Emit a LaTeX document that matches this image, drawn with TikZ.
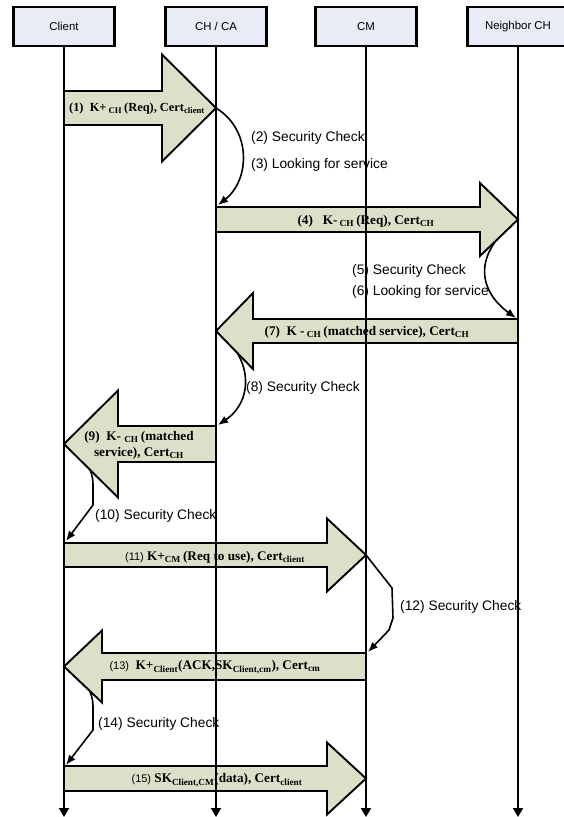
\documentclass[tikz,border=0pt]{standalone}
\usepackage{fontspec}
\setmainfont{Liberation Serif}
\setsansfont{Liberation Sans}
\usetikzlibrary{arrows.meta}
\definecolor{arrowfill}{RGB}{221,224,201}
\definecolor{boxfill}{RGB}{231,236,247}
\begin{document}
\begin{tikzpicture}[x=1pt,y=-1pt,
  actor/.style={draw=black, line width=2.4pt, fill=boxfill, minimum width=101pt, minimum height=39pt, font=\sffamily\fontsize{11.4}{13}\selectfont, inner sep=0pt},
  life/.style={line width=1.9pt, -{Triangle[length=9pt,width=10pt]}},
  fat/.style={draw=black, line width=1.9pt, fill=arrowfill, line join=miter},
  msg/.style={font=\bfseries\fontsize{13.2}{16}\selectfont, inner sep=0pt, align=center},
  note/.style={font=\sffamily\fontsize{13.8}{16}\selectfont, anchor=west, inner sep=0pt},
  loopline/.style={line width=1.6pt, -{Latex[length=10pt,width=8pt]}},
]
\useasboundingbox (0,0) rectangle (563,817);

% actors
\node[actor] (client) at (64,26.5) {Client};
\node[actor] (chca) at (216,26.5) {CH / CA};
\node[actor] (cm) at (366,26.5) {CM};
\node[actor] (nch) at (518,26.5) {Neighbor CH};

% lifeline ends
\coordinate (clientEnd) at (64,817);
\coordinate (chcaEnd) at (216,817);
\coordinate (cmEnd) at (366,817);
\coordinate (nchEnd) at (518,817);

% arrow tips and loop ends
\coordinate (t1) at (216,108);
\coordinate (t4) at (518,219.5);
\coordinate (t7) at (216,331);
\coordinate (t9) at (64,444);
\coordinate (t11) at (366,555);
\coordinate (t13) at (64,666.5);
\coordinate (e1) at (218,205);
\coordinate (e2) at (516,318);
\coordinate (e3) at (218,425);
\coordinate (e4) at (66,541);
\coordinate (e5) at (368,652);
\coordinate (e6) at (66,765);

% loops (behind the fat arrows)
\draw[loopline] (t1) .. controls (252,130) and (250,180) .. (e1);
\draw[loopline] (t4) .. controls (470,255) and (480,292) .. (e2);
\draw[loopline] (t7) .. controls (252,355) and (255,400) .. (e3);
\draw[loopline] (t9) .. controls (85,458) and (93,468) .. (93,485) -- (93,505) -- (e4);
\draw[loopline] (t11) -- (392,588) -- (393,618) -- (389,630) -- (e5);
\draw[loopline] (t13) .. controls (85,680) and (93,690) .. (93,707) -- (93,730) -- (e6);

% fat arrows
\draw[fat] (64,91) -- (162,91) -- (162,54.5) -- (t1) -- (162,161.5) -- (162,125) -- (64,125) -- cycle;
\draw[fat] (216,207) -- (480,207) -- (480,183) -- (t4) -- (480,256) -- (480,232) -- (216,232) -- cycle;
\draw[fat] (518,319) -- (253,319) -- (253,293) -- (t7) -- (253,369) -- (253,343) -- (518,343) -- cycle;
\draw[fat] (216,426) -- (118,426) -- (118,390.5) -- (t9) -- (118,497.5) -- (118,462) -- (216,462) -- cycle;
\draw[fat] (64,543) -- (327,543) -- (327,518.5) -- (t11) -- (327,591.5) -- (327,567) -- (64,567) -- cycle;
\draw[fat] (366,653) -- (102,653) -- (102,630.5) -- (t13) -- (102,702.5) -- (102,680) -- (366,680) -- cycle;
\draw[fat] (64,766) -- (327,766) -- (327,742.5) -- (366,778.5) -- (327,814.5) -- (327,791) -- (64,791) -- cycle;

% lifelines on top
\draw[life] (client.south) -- (clientEnd);
\draw[life] (chca.south) -- (chcaEnd);
\draw[life] (cm.south) -- (cmEnd);
\draw[life] (nch.south) -- (nchEnd);

% message labels
\node[msg, font=\bfseries\fontsize{12.4}{15}\selectfont] (m1) at (137,109) {(1)\ \ K+\,\textsubscript{CH}\,(Req), Cert\textsubscript{client}};
\node[msg] (m4) at (366,221) {(4)\ \ \ K-\,\textsubscript{CH}\,(Req), Cert\textsubscript{CH}};
\node[msg] (m7) at (367,332) {(7)\ \ K -\,\textsubscript{CH}\,(matched service), Cert\textsubscript{CH}};
\node[msg] (m9) at (139,445) {(9)\ \ K-\ \textsubscript{CH}\,(matched\\service), Cert\textsubscript{CH}};
\node[msg] (m11) at (215,557) {{\sffamily\mdseries\fontsize{11}{12}\selectfont(11)} K+\textsubscript{CM}\,(Req to use), Cert\textsubscript{client}};
\node[msg] (m13) at (215,667) {{\sffamily\mdseries\fontsize{11}{12}\selectfont(13)}\ \ K+\textsubscript{Client}(ACK,SK\textsubscript{Client,cm}), Cert\textsubscript{cm}};
\node[msg] (m15) at (217,780) {{\sffamily\mdseries\fontsize{11}{12}\selectfont(15)} SK\textsubscript{Client,CM}(data), Cert\textsubscript{client}};

% step notes
\node[note] (n2) at (251,138) {(2) Security Check};
\node[note] (n3) at (251,165) {(3) Looking for service};
\node[note] (n5) at (352,271) {(5) Security Check};
\node[note] (n6) at (352,292) {(6) Looking for service};
\node[note] (n8) at (246,388) {(8) Security Check};
\node[note] (n10) at (95,516) {(10) Security Check};
\node[note] (n12) at (400,607) {(12) Security Check};
\node[note] (n14) at (98,724) {(14) Security Check};
\end{tikzpicture}
\end{document}
